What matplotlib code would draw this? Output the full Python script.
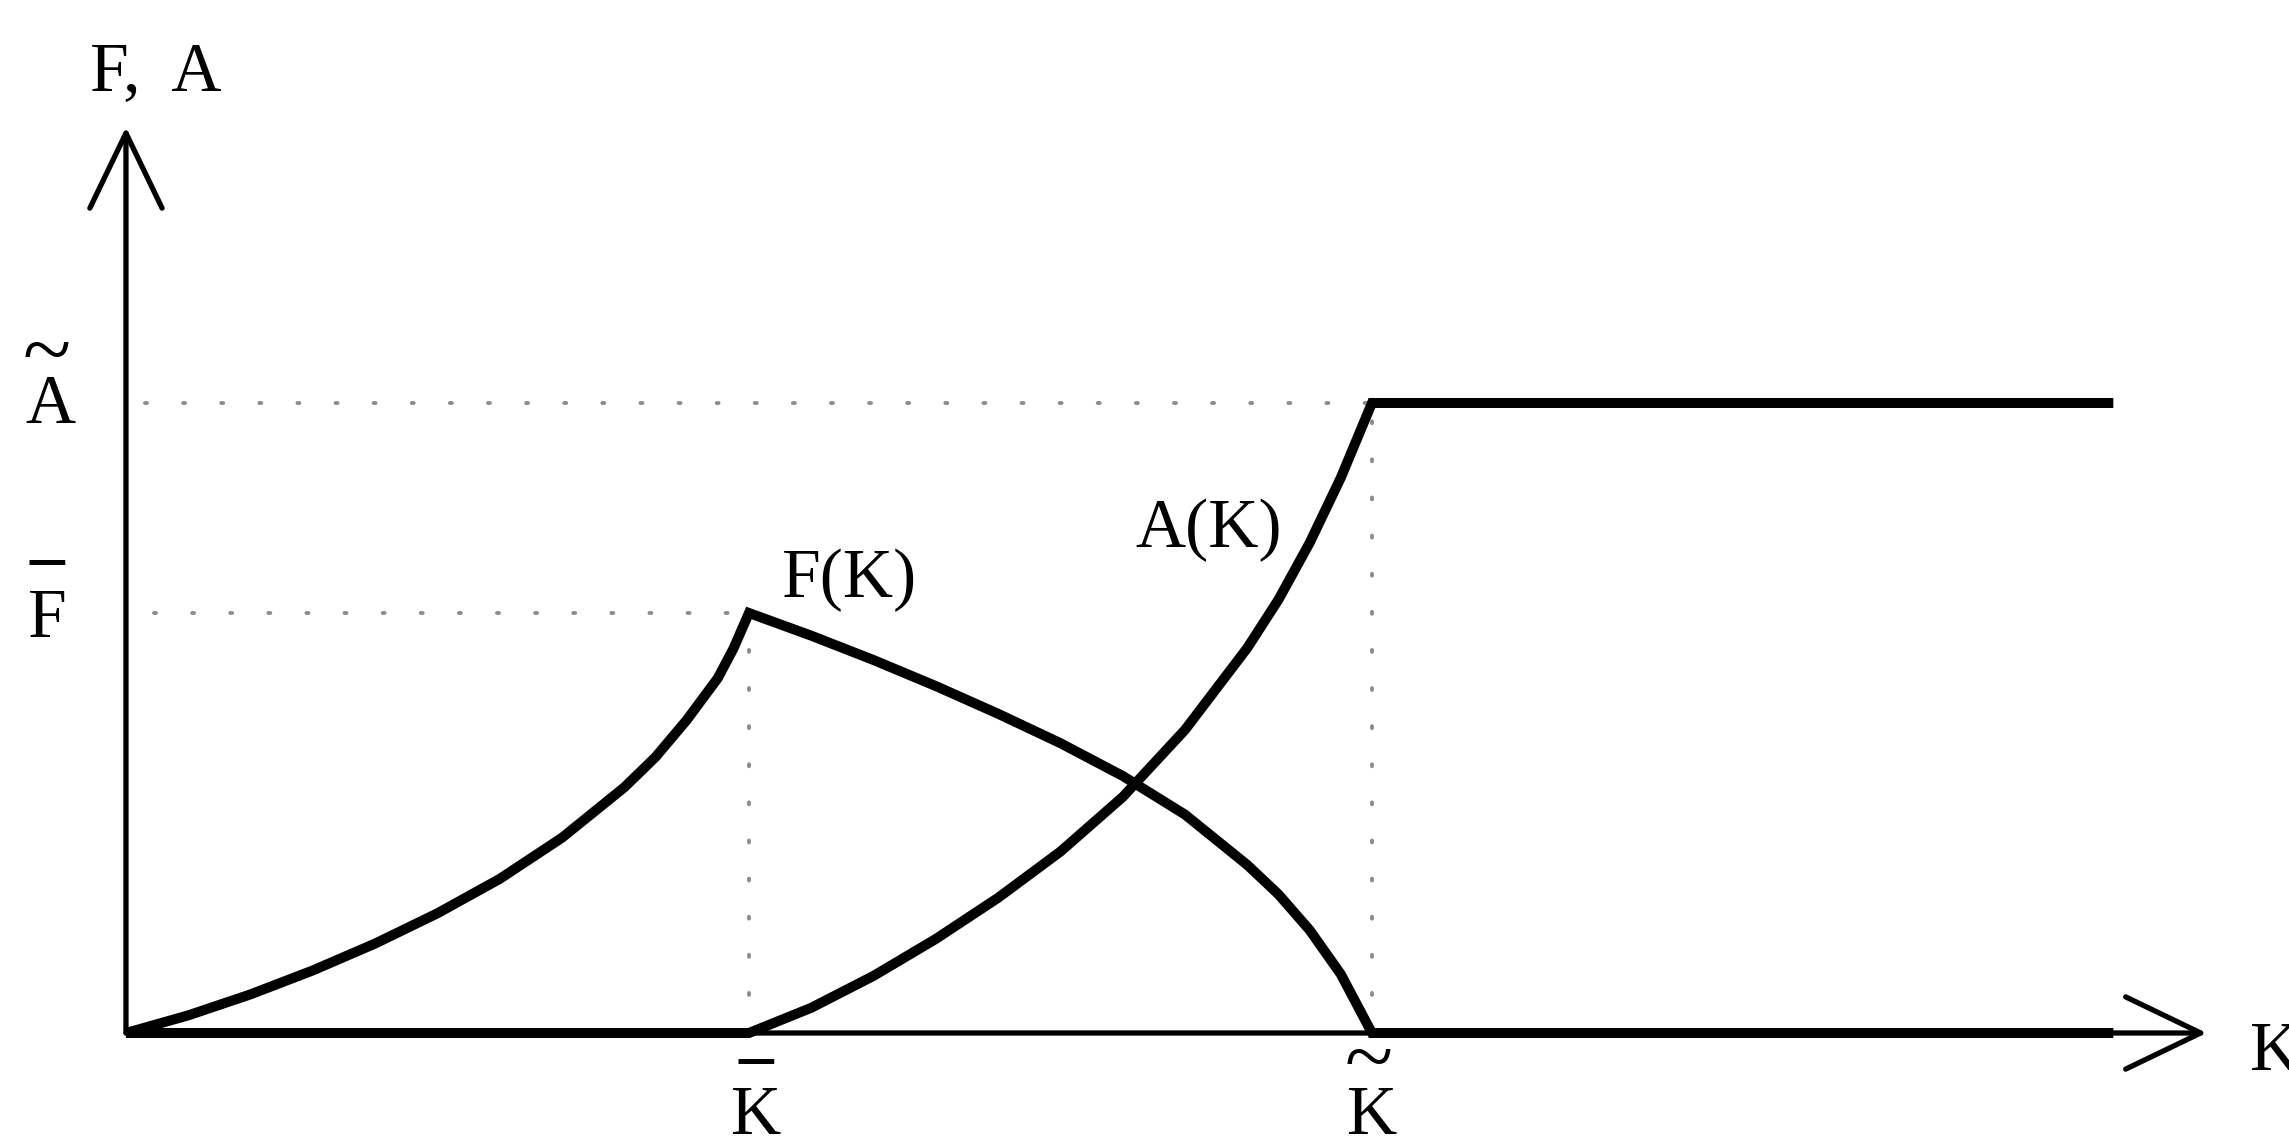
import matplotlib
matplotlib.use("Agg")
from matplotlib import pyplot as plt

# critical capital levels and output levels
K_bar = 1.0
K_tilde = 2.0
F_bar = 1.0
A_tilde = 1.5
K_end = 3.19

# F(K): rises to F_bar at K_bar, falls to zero at K_tilde, then stays at zero
F_k = [0.0, 0.1, 0.2, 0.3, 0.4, 0.5, 0.6, 0.7, 0.8, 0.85, 0.9, 0.95, 0.975, 1.0,
       1.1, 1.2, 1.3, 1.4, 1.5, 1.6, 1.7, 1.8, 1.85, 1.9, 1.95, 2.0,
       3.19]
F_v = [0.0, 0.042, 0.092, 0.149, 0.213, 0.285, 0.367, 0.465, 0.585, 0.657, 0.745, 0.845, 0.915, 1.0,
       0.946, 0.888, 0.826, 0.76, 0.69, 0.612, 0.52, 0.40, 0.33, 0.245, 0.14, 0.0,
       0.0]

# A(K): zero up to K_bar, rises to A_tilde at K_tilde, flat afterwards
A_k = [0.0, 1.0, 1.1, 1.2, 1.3, 1.4, 1.5, 1.6, 1.7, 1.8, 1.85, 1.9, 1.95, 2.0, 3.19]
A_v = [0.0, 0.0, 0.06, 0.136, 0.224, 0.322, 0.432, 0.562, 0.722, 0.917, 1.032, 1.167, 1.322, 1.5, 1.5]

plt.rcParams["font.family"] = ["Liberation Serif", "DejaVu Serif"]
fs = 50

fig = plt.figure(figsize=(22.89, 11.38), dpi=100)
ax = fig.add_axes([0, 0, 1, 1])
ax.set_xlim(-0.2022, 3.472)
ax.set_ylim(-0.25, 2.4595)
ax.axis("off")

# axes with open arrow heads
arrow = dict(arrowstyle="->,head_length=54,head_width=26", mutation_scale=1,
             lw=3.8, color="black", shrinkA=0, shrinkB=0)
ax.annotate("", xy=(0, 2.157), xytext=(0, 0), arrowprops=arrow)
ax.annotate("", xy=(3.34, 0), xytext=(0, 0), arrowprops=arrow)

# dotted guide lines
dots = dict(color="#8c8c8c", lw=2.8, linestyle=(0, (0.5, 9.3)), dash_capstyle="round")
ax.plot([0.03, K_tilde], [A_tilde, A_tilde], **dots)
ax.plot([0.045, K_bar], [F_bar, F_bar], **dots)
ax.plot([K_bar, K_bar], [0, F_bar], **dots)
ax.plot([K_tilde, K_tilde], [0, A_tilde], **dots)

curve = dict(color="black", lw=7.2, solid_joinstyle="miter", solid_capstyle="butt")
ax.plot(F_k, F_v, **curve)
ax.plot(A_k, A_v, **curve)

# labels
ax.text(-0.058, 2.245, "F,  A", fontsize=fs, va="baseline", ha="left")
ax.text(3.41, -0.088, "K", fontsize=fs, va="baseline", ha="left")
ax.text(1.053, 1.038, "F(K)", fontsize=fs, va="baseline", ha="left")
ax.text(1.621, 1.157, "A(K)", fontsize=fs, va="baseline", ha="left")

# accented level labels: letter plus tilde or bar drawn above it
ax.text(-0.122, 1.452, "A", fontsize=fs, va="baseline", ha="center")
ax.text(-0.127, 1.557, "~", fontsize=64, va="baseline", ha="center")
ax.text(-0.127, 0.943, "F", fontsize=fs, va="baseline", ha="center")
ax.text(-0.127, 1.081, "–", fontsize=fs, va="baseline", ha="center", fontweight="bold")
ax.text(1.011, -0.240, "K", fontsize=fs, va="baseline", ha="center")
ax.text(1.011, -0.107, "–", fontsize=fs, va="baseline", ha="center", fontweight="bold")
ax.text(2.0, -0.240, "K", fontsize=fs, va="baseline", ha="center")
ax.text(1.995, -0.126, "~", fontsize=64, va="baseline", ha="center")

fig.savefig("out.png", dpi=100)
